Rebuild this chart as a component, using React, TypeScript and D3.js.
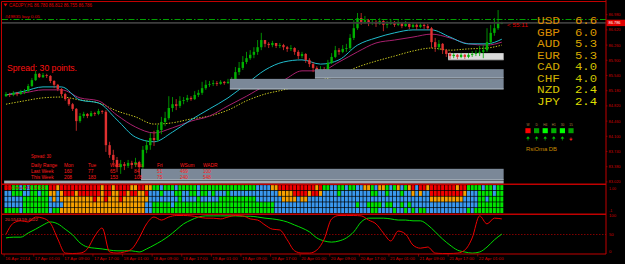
import * as d3 from "d3";

// ---- chart data ----
const TITLE = "CADJPY,H1  86.780 86.812 86.755 86.786";
const ORDER_LABEL = "#49835 buy 0.05";
const SPREAD_TEXT = "Spread: 30 points.";
const TIMER_TEXT = "< 55:11";
const ORDER_PRICE = 86.866;
const BID_PRICE = 86.786;

const OPEN0 = 85.05;
const CLOSE = [
  85.10, 85.08, 85.13, 85.10, 85.15, 85.17, 85.29, 85.43, 85.58, 85.50,
  85.55, 85.53, 85.41, 85.32, 85.22, 85.10, 84.98, 84.86, 84.75, 84.46,
  84.58, 84.63, 84.58, 84.65, 84.63, 84.70, 84.68, 83.89, 83.66, 83.54,
  83.37, 83.44, 83.40, 83.47, 83.42, 83.49, 83.37, 83.78, 83.89, 84.06,
  84.01, 84.25, 84.44, 84.53, 84.77, 84.86, 84.82, 84.94, 84.96, 85.01,
  84.98, 85.08, 85.13, 85.24, 85.32, 85.34, 85.36, 85.34, 85.39, 85.36,
  85.39, 85.43, 85.62, 85.72, 85.86, 85.95, 86.03, 86.10, 86.21, 86.38,
  86.29, 86.26, 86.31, 86.24, 86.26, 86.21, 86.17, 86.19, 86.10, 86.00,
  86.05, 85.91, 85.81, 85.72, 85.67, 85.69, 85.65, 85.84, 85.98, 86.14,
  86.10, 86.17, 86.19, 86.43, 86.66, 86.90, 86.81, 86.85, 86.78, 86.81,
  86.76, 86.83, 86.74, 86.76, 86.81, 86.74, 86.78, 86.71, 86.76, 86.69,
  86.74, 86.69, 86.74, 86.71, 86.66, 86.33, 86.21, 86.29, 86.14, 86.05,
  86.00, 86.03, 85.98, 86.03, 85.98, 86.03, 86.05, 86.07, 86.10, 86.14,
  86.33, 86.55, 86.66, 86.78, 86.786,
];
const HIGH = [
  85.15, 85.13, 85.17, 85.15, 85.20, 85.22, 85.34, 85.48, 85.65, 85.60,
  85.60, 85.58, 85.55, 85.43, 85.34, 85.24, 85.13, 85.01, 84.89, 84.77,
  84.65, 84.68, 84.65, 84.70, 84.68, 84.75, 84.72, 84.72, 83.97, 83.78,
  83.61, 83.54, 83.49, 83.54, 83.52, 83.59, 83.52, 83.87, 84.01, 84.18,
  84.23, 84.37, 84.56, 84.68, 85.05, 85.03, 84.98, 85.05, 85.03, 85.08,
  85.05, 85.17, 85.20, 85.39, 85.43, 85.41, 85.43, 85.41, 85.43, 85.41,
  85.46, 85.50, 85.74, 85.86, 86.00, 86.10, 86.14, 86.21, 86.38, 86.55,
  86.38, 86.33, 86.36, 86.31, 86.31, 86.29, 86.24, 86.26, 86.21, 86.14,
  86.10, 86.07, 85.95, 85.86, 85.76, 85.76, 85.74, 85.91, 86.07, 86.24,
  86.19, 86.26, 86.29, 86.52, 86.85, 87.02, 87.02, 86.95, 86.88, 86.88,
  86.85, 86.90, 86.85, 86.83, 86.88, 86.83, 86.85, 86.81, 86.83, 86.78,
  86.81, 86.78, 86.81, 86.78, 86.76, 86.69, 86.43, 86.38, 86.31, 86.17,
  86.10, 86.07, 86.05, 86.07, 86.05, 86.07, 86.12, 86.14, 86.24, 86.26,
  86.66, 86.74, 86.90, 87.09, 86.812,
];
const LOW = [
  85.03, 85.03, 85.05, 85.05, 85.08, 85.10, 85.15, 85.27, 85.41, 85.48,
  85.48, 85.48, 85.36, 85.24, 85.17, 85.05, 84.94, 84.82, 84.70, 84.23,
  84.42, 84.53, 84.53, 84.56, 84.58, 84.60, 84.63, 83.73, 83.59, 83.42,
  83.25, 83.21, 83.30, 83.35, 83.33, 83.37, 83.16, 83.30, 83.70, 83.78,
  83.87, 83.97, 84.15, 84.34, 84.49, 84.68, 84.72, 84.77, 84.86, 84.91,
  84.94, 84.96, 85.03, 85.08, 85.20, 85.27, 85.29, 85.29, 85.32, 85.32,
  85.34, 85.34, 85.39, 85.55, 85.67, 85.81, 85.91, 85.95, 86.03, 86.14,
  86.21, 86.19, 86.21, 86.19, 86.19, 86.14, 86.10, 86.12, 86.03, 85.93,
  85.95, 85.84, 85.74, 85.62, 85.60, 85.62, 85.60, 85.62, 85.81, 85.95,
  86.03, 86.07, 86.10, 86.14, 86.38, 86.62, 86.74, 86.76, 86.71, 86.74,
  86.69, 86.74, 86.59, 86.66, 86.74, 86.69, 86.71, 86.66, 86.69, 86.64,
  86.66, 86.62, 86.66, 86.64, 86.62, 86.19, 86.10, 86.14, 86.05, 85.98,
  85.93, 85.95, 85.93, 85.95, 85.93, 85.95, 85.98, 86.00, 86.00, 85.95,
  86.10, 86.29, 86.48, 86.62, 86.755,
];

// moving averages, sampled every 5 bars
const MA_BARS = [0, 5, 10, 15, 20, 25, 30, 35, 40, 45, 50, 55, 60, 65, 70, 75, 80, 85, 90, 95, 100, 105, 110, 115, 120, 125, 130, 134];
const MA_FAST = [85.08, 85.17, 85.27, 85.27, 84.96, 84.89, 84.49, 84.08, 83.97, 84.20, 84.49, 84.75, 85.01, 85.34, 85.67, 85.86, 85.91, 85.81, 85.91, 86.26, 86.43, 86.55, 86.62, 86.62, 86.45, 86.29, 86.29, 86.40];
const MA_MID = [85.08, 85.13, 85.20, 85.20, 85.01, 84.94, 84.60, 84.32, 84.18, 84.30, 84.46, 84.58, 84.82, 85.05, 85.29, 85.43, 85.65, 85.65, 85.86, 86.10, 86.31, 86.38, 86.45, 86.52, 86.43, 86.29, 86.26, 86.33];
const MA_SLOW = [84.86, 84.94, 85.01, 85.03, 84.96, 84.89, 84.70, 84.56, 84.39, 84.42, 84.51, 84.58, 84.72, 84.94, 85.10, 85.20, 85.32, 85.43, 85.55, 85.74, 85.88, 86.00, 86.12, 86.19, 86.14, 86.17, 86.19, 86.26];

// supply / demand zones: start bar, top, bottom
const ZONES = [
  { start: 61, top: 85.46, bottom: 85.22 },
  { start: 84, top: 85.69, bottom: 85.48 },
  { start: 37, top: 83.33, bottom: 83.07 },
];
const WHITE_ZONE = { start: 120, top: 86.07, bottom: 85.91 };
const BASE_ZONE = { start: 0, top: 83.05, bottom: 82.99 };

const PRICE_TICKS = ["86.980", "86.620", "86.260", "85.900", "85.540", "85.180", "84.820", "84.460", "84.100", "83.740", "83.380", "83.020"];

const TIME_LABELS = [
  "16 Apr 2014", "17 Apr 01:00", "17 Apr 09:00", "17 Apr 17:00", "18 Apr 01:00", "18 Apr 09:00",
  "18 Apr 17:00", "19 Apr 01:00", "19 Apr 09:00", "19 Apr 17:00", "20 Apr 01:00", "20 Apr 09:00",
  "20 Apr 17:00", "21 Apr 01:00", "21 Apr 09:00", "21 Apr 17:00", "22 Apr 01:00",
];

// currency strength meter
const CURRENCIES = ["USD", "GBP", "AUD", "EUR", "CAD", "CHF", "NZD", "JPY"];
const STRENGTH = [6.6, 6.0, 5.3, 5.3, 4.0, 4.0, 2.4, 2.4];
const CUR_COLORS = ["#d88700", "#d88a00", "#d69400", "#d39600", "#cda500", "#cbae00", "#d2c000", "#d8cc00"];
const NUM_COLORS = ["#e09000", "#dc9800", "#d8a400", "#d6a800", "#d0c000", "#ccc400", "#dcd800", "#e0e000"];

// timeframe dashboard
const TF_LABELS = ["W", "D", "H4", "H1", "30", "15"];
const TF_COLORS = ["#ff0000", "#00a000", "#00ff00", "#00b000", "#00ff00", "#00a000"];
const TF_DIR = [1, 1, 1, 1, 1, -1];

// daily range table
const TABLE_COLS = ["Daily Range", "Mon", "Tue", "Wed", "Thu", "Fri", "WSum", "WADR"];
const LAST_WEEK = [160, 77, 65, 84, 51, 469, 100];
const THIS_WEEK = [208, 183, 153, 108, 75, 240, 548];

// heat map (R red, O orange, B blue, G green), one string per row
const HEAT_ROWS = [
  ["RR", "GGB", "GBG", "GGGG", "RROR", "RRRRRRRRR", "RORRORRRROOR", "ROO", "GGBGGGBGGGGGBGGG", "GGGGG", "GGGGGGGBB", "BBOORR", "RRRRRRRROR", "GGBBGGBGGBBO", "OGBOOGBGOBGO", "RBRRO", "RRRRRRRORR", "GGG", "GBGGBGG"].join(""),
  ["BB", "GGG", "BBG", "GBGG", "OOBO", "RRRORRRRR", "RORROORRORRO", "ORB", "BBGBBBGGBBGGBGGB", "GBBBG", "BBBBBBBBB", "BBBBOO", "OORRRRORRO", "BBBBGBBBBBBB", "BGGBBGBBBGBB", "OBOBB", "RRRRRRRRRO", "BBB", "GGGGBGG"].join(""),
  ["BB", "BBB", "GGG", "GGGG", "BOBO", "OOOOOOOOR", "OOROOOROOOOO", "OOB", "BBBBBBBGBBBBGBBB", "BBGGG", "GGGGGGGBB", "BBBBBO", "OOOBOOBBBB", "BBBBBBBBBBBB", "BBBBBBBBBBBB", "BBBBB", "OOOOOOOOOB", "BBB", "GGBGGGG"].join(""),
  ["BB", "BBB", "GGG", "GGGG", "BBBB", "OOOOOOOOO", "OOOOOOOOOOOO", "OBB", "GGGGGBGGGGGGGGGG", "GGGGG", "GGGGGGGGG", "GGGBBB", "BBBBBBBBBB", "BBBBBBBBBGBB", "GGGGBGGBBGBG", "BBBBB", "BBBBBBBBBB", "BBB", "GGGGGGG"].join(""),
  ["GG", "GGB", "GGG", "GGGG", "BGGO", "OOOOOOOOO", "OOOOOOOOOOOO", "OBB", "GGGGGGGGGGGGGGGG", "GGGGG", "GGGGGGGGG", "GGGBBB", "BBBBBBBBBB", "BBBBBBBBBBBB", "BGGBBBBGBBGB", "GBGGB", "BBBBBBBBBB", "GBG", "GGGGGGG"].join(""),
];
const HEAT_COLORS: Record<string, string> = { R: "#f20000", O: "#f5a000", B: "#3a98ee", G: "#00e400" };

// RsiOma lines, every 2 bars
const RSI_RED = [51, 80, 86, 83, 96, 93, 80, 38, 1, 0, 1, 12, 46, 67, 4, 1, 4, 12, 41, 78, 96, 88, 96, 100, 100, 99, 96, 93, 93, 91, 96, 100, 99, 91, 88, 75, 64, 62, 36, 7, 1, 1, 9, 38, 91, 100, 100, 100, 99, 88, 78, 54, 33, 59, 51, 22, 14, 17, 1, 0, 0, 1, 9, 41, 99, 78, 93, 91];
const RSI_GREEN = [41, 43, 43, 54, 64, 75, 83, 78, 64, 49, 28, 17, 14, 12, 9, 7, 7, 7, 4, 12, 22, 33, 46, 62, 78, 88, 96, 99, 99, 99, 99, 99, 98, 98, 96, 93, 91, 88, 83, 75, 67, 57, 41, 33, 30, 33, 41, 57, 83, 93, 93, 93, 91, 88, 88, 86, 86, 75, 57, 38, 22, 9, 4, 1, 4, 17, 36, 51];
const RSI_TEXT = "20.5543   59.4022";

const FONT = "'Liberation Sans', Arial, sans-serif";
const RED = "#e00000";
const FRAME = "#c00000";

export default function App() {
  const n = CLOSE.length;
  const x = d3.scaleBand<number>().domain(d3.range(n)).range([4.15, 4.15 + n * 3.7]);
  const cx = (i: number) => (x(i) ?? 0) + x.bandwidth() / 2;
  const right = 606;
  const chartEnd = 4.15 + n * 3.7;
  const y = d3.scaleLinear().domain([83.38, 86.98]).range([166.7, 14.7]);
  const heatY = d3.scaleBand<number>().domain(d3.range(5)).range([184.8, 213.4]);
  const rsiY = d3.scaleLinear().domain([0, 100]).range([253.5, 215.5]);

  const maLine = d3.line<number>().x((_, k) => cx(MA_BARS[k])).y((v) => y(v)).curve(d3.curveMonotoneX);
  const rsiLine = d3.line<number>().x((_, k) => cx(k * 2)).y((v) => rsiY(v)).curve(d3.curveMonotoneX);

  const zoneRect = (z: { start: number; top: number; bottom: number }) => ({
    x: x(z.start) ?? 0,
    y: y(z.top),
    w: chartEnd - (x(z.start) ?? 0),
    h: y(z.bottom) - y(z.top),
  });

  const tfX = d3.scalePoint<string>().domain(TF_LABELS.map((_, i) => String(i))).range([528, 571]);
  const colX = [31, 64, 88, 110, 134, 157, 180, 203];

  const wz = zoneRect(WHITE_ZONE);
  const bz = zoneRect(BASE_ZONE);

  return (
    <svg width={625} height={264} style={{ position: "fixed", left: 0, top: 0, background: "#000" }} fontFamily={FONT}>
      <rect width={625} height={264} fill="#000" />

      {/* white zone behind candles */}
      <rect x={wz.x} y={wz.y} width={wz.w} height={wz.h} fill="#dcdcdc" />
      <line x1={wz.x} x2={wz.x + wz.w} y1={wz.y + wz.h} y2={wz.y + wz.h} stroke="#a8a8a8" strokeWidth={0.8} />

      {/* moving averages */}
      <path d={maLine(MA_SLOW) ?? ""} fill="none" stroke="#c8c820" strokeWidth={1} strokeDasharray="1.4,1.4" />
      <path d={maLine(MA_MID) ?? ""} fill="none" stroke="#a8206e" strokeWidth={1} />
      <path d={maLine(MA_FAST) ?? ""} fill="none" stroke="#20bccc" strokeWidth={1} />

      {/* candles */}
      {CLOSE.map((c, i) => {
        const o = i === 0 ? OPEN0 : CLOSE[i - 1];
        const up = c >= o;
        const col = up ? "#00b000" : "#e03030";
        const hi = Math.max(HIGH[i], o, c);
        const lo = Math.min(LOW[i], o, c);
        const top = y(Math.max(o, c));
        const h = Math.max(0.8, Math.abs(y(o) - y(c)));
        return (
          <g key={i}>
            <line x1={cx(i)} x2={cx(i)} y1={y(hi)} y2={y(lo)} stroke={col} strokeWidth={0.8} />
            <rect x={cx(i) - 1.2} y={top} width={2.4} height={h} fill={col} />
          </g>
        );
      })}

      {/* gray zones */}
      {ZONES.map((z, k) => {
        const r = zoneRect(z);
        return (
          <g key={k}>
            <rect x={r.x} y={r.y} width={r.w} height={r.h} fill="#7b8898" />
            <line x1={r.x} x2={r.x + r.w} y1={r.y + r.h} y2={r.y + r.h} stroke="#b4bec8" strokeWidth={1} />
          </g>
        );
      })}
      <rect x={bz.x} y={bz.y} width={bz.w} height={bz.h + 0.6} fill="#a2abb4" />

      {/* order and bid lines */}
      <line x1={2} x2={right} y1={y(ORDER_PRICE)} y2={y(ORDER_PRICE)} stroke="#00a000" strokeWidth={1} strokeDasharray="6,2,1.5,2" />
      <line x1={2} x2={right} y1={y(BID_PRICE)} y2={y(BID_PRICE)} stroke="#3c3c3c" strokeWidth={1.6} />

      {/* title texts */}
      <path d="M3.5,3.6 L7.5,3.6 L5.5,6.4 Z" fill={RED} />
      <text x={9} y={7} fontSize={4.8} fill={RED} textLength={83} lengthAdjust="spacingAndGlyphs">{TITLE}</text>
      <text x={5} y={17.6} fontSize={4.3} fill={RED} textLength={35} lengthAdjust="spacingAndGlyphs">{ORDER_LABEL}</text>
      <text x={7} y={70.5} fontSize={9.5} fill="#ff1010" textLength={70} lengthAdjust="spacingAndGlyphs">{SPREAD_TEXT}</text>
      <text x={507} y={26.5} fontSize={4.6} fill={RED} textLength={21} lengthAdjust="spacingAndGlyphs">{TIMER_TEXT}</text>

      {/* daily range table */}
      <g fontSize={4.8} fill="#ff1a1a">
        <text x={31} y={157.7} textLength={20} lengthAdjust="spacingAndGlyphs">Spread: 30</text>
        {TABLE_COLS.map((t, k) => (
          <text key={t} x={colX[k]} y={166.8}>{t}</text>
        ))}
        <text x={31} y={172.7}>Last Week</text>
        <text x={31} y={178.6}>This Week</text>
        {LAST_WEEK.map((v, k) => (
          <text key={"l" + k} x={colX[k + 1]} y={172.7}>{v}</text>
        ))}
        {THIS_WEEK.map((v, k) => (
          <text key={"t" + k} x={colX[k + 1]} y={178.6}>{v}</text>
        ))}
      </g>

      {/* currency strength */}
      {CURRENCIES.map((c, k) => (
        <g key={c} fontFamily="'Liberation Mono', 'DejaVu Sans Mono', monospace" fontSize={10.2}>
          <text x={537} y={24 + k * 11.55} fill={CUR_COLORS[k]} textLength={23} lengthAdjust="spacingAndGlyphs">{c}</text>
          <text x={575} y={24 + k * 11.55} fill={NUM_COLORS[k]} textLength={22} lengthAdjust="spacingAndGlyphs">{STRENGTH[k].toFixed(1)}</text>
        </g>
      ))}

      {/* timeframe dashboard */}
      {TF_LABELS.map((t, k) => {
        const px = tfX(String(k)) ?? 0;
        const ay = 138.5;
        return (
          <g key={t}>
            <text x={px} y={125.5} fontSize={3.2} fill="#b08040" textAnchor="middle">{t}</text>
            <rect x={px - 2.6} y={128.2} width={5.2} height={5} fill={TF_COLORS[k]} />
            {TF_DIR[k] > 0 ? (
              <path d={`M${px},${ay - 1.8} L${px - 1.3},${ay - 0.2} L${px + 1.3},${ay - 0.2} Z M${px},${ay - 0.5} V${ay + 2}`} fill="#00d000" stroke="#00d000" strokeWidth={0.6} />
            ) : (
              <path d={`M${px},${ay + 2} L${px - 1.3},${ay + 0.4} L${px + 1.3},${ay + 0.4} Z M${px},${ay + 0.6} V${ay - 1.2}`} fill="#ff2020" stroke="#ff2020" strokeWidth={0.6} />
            )}
          </g>
        );
      })}
      <text x={526} y={150.5} fontSize={6} fill="#c88a00" textLength={31} lengthAdjust="spacingAndGlyphs">RsiOma DB</text>

      {/* heat map */}
      {HEAT_ROWS.map((row, r) =>
        row.split("").slice(0, n).map((ch, i) => (
          <rect key={r + "-" + i} x={(x(i) ?? 0) + 0.35} y={(heatY(r) ?? 0) + 0.35} width={x.bandwidth() - 0.7} height={heatY.bandwidth() - 0.7} fill={HEAT_COLORS[ch]} />
        ))
      )}
      <text x={4} y={189.3} fontSize={4} fill="#d00000" textLength={42} lengthAdjust="spacingAndGlyphs">RsiOma  H1  14  21</text>

      {/* RSI panel */}
      <line x1={2} x2={right} y1={rsiY(50)} y2={rsiY(50)} stroke="#a00000" strokeWidth={0.8} strokeDasharray="1.5,1.5" />
      <path d={rsiLine(RSI_GREEN) ?? ""} fill="none" stroke="#00dc00" strokeWidth={1} />
      <path d={rsiLine(RSI_RED) ?? ""} fill="none" stroke="#ee0000" strokeWidth={1} />
      <text x={5} y={220.8} fontSize={4} fill="#ff3030" textLength={33} lengthAdjust="spacingAndGlyphs">{RSI_TEXT}</text>

      {/* frames */}
      <g stroke={FRAME} fill="none">
        <line x1={1.5} x2={right} y1={1.5} y2={1.5} strokeWidth={1} />
        <line x1={1.5} x2={1.5} y1={1.5} y2={254} strokeWidth={1} />
        <line x1={right} x2={right} y1={0} y2={254} strokeWidth={1} />
        <line x1={1.5} x2={right} y1={184.2} y2={184.2} strokeWidth={1.4} />
        <line x1={1.5} x2={right} y1={214.2} y2={214.2} strokeWidth={1.4} />
        <line x1={1.5} x2={right} y1={254} y2={254} strokeWidth={1.2} />
      </g>

      {/* price axis */}
      {PRICE_TICKS.map((t) => (
        <g key={t}>
          <line x1={right} x2={right + 1.5} y1={y(+t)} y2={y(+t)} stroke={FRAME} strokeWidth={0.6} />
          <text x={608.5} y={y(+t) + 1.5} fontSize={4.2} fill="#d00000" textLength={12} lengthAdjust="spacingAndGlyphs">{t}</text>
        </g>
      ))}
      <rect x={right + 0.5} y={y(BID_PRICE) - 3.2} width={19} height={6.4} fill="#e00000" />
      <text x={608.5} y={y(BID_PRICE) + 1.6} fontSize={4.4} fill="#ffffff" textLength={12} lengthAdjust="spacingAndGlyphs">{BID_PRICE.toFixed(3)}</text>

      {/* heat and rsi axis */}
      <text x={609} y={190} fontSize={3.6} fill="#d00000">1.00</text>
      <text x={609} y={211.5} fontSize={3.6} fill="#d00000">-1</text>
      {[100, 50, 0].map((v) => (
        <text key={v} x={609} y={Math.min(rsiY(v) + 1.5, 252.8)} fontSize={4.2} fill="#d00000">{v}</text>
      ))}

      {/* time axis */}
      {TIME_LABELS.map((t, k) => {
        const px = x(k * 8) ?? 0;
        return (
          <g key={t}>
            <line x1={px} x2={px} y1={254} y2={256.5} stroke={FRAME} strokeWidth={0.6} />
            <text x={px + 1} y={259.8} fontSize={4.3} fill="#d00000" textLength={25} lengthAdjust="spacingAndGlyphs">{t}</text>
          </g>
        );
      })}
    </svg>
  );
}
